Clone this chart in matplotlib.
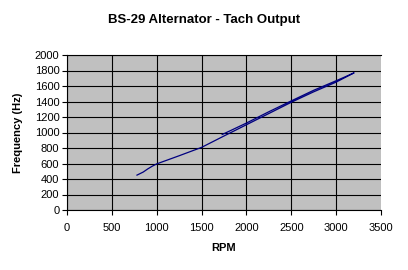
import matplotlib.pyplot as plt

plt.rcParams['font.family'] = ['Liberation Sans', 'DejaVu Sans']

# sweep up, then back down (the two lines between ~1750 and 3200 rpm)
rpm  = [780, 850, 900, 950, 1000, 1250, 1500, 1750, 2000, 2250, 2500, 2750, 3000, 3200,
        3100, 3000, 2750, 2500, 2250, 2000, 1750, 1730]
freq = [450, 490, 530, 565, 595, 700, 808, 955, 1100, 1245, 1390, 1525, 1650, 1770,
        1718, 1668, 1545, 1408, 1268, 1122, 985, 975]

xticks = [0, 500, 1000, 1500, 2000, 2500, 3000, 3500]
yticks = [0, 200, 400, 600, 800, 1000, 1200, 1400, 1600, 1800, 2000]

fig = plt.figure(figsize=(4.08, 2.70), dpi=100)
ax = fig.add_axes([67 / 408, 60 / 270, 314 / 408, 155 / 270])

ax.set_facecolor("#c0c0c0")
ax.plot(rpm, freq, color="#000080", linewidth=0.9)

ax.set_xlim(0, 3500)
ax.set_ylim(0, 2000)
ax.set_xticks(xticks)
ax.set_yticks(yticks)
ax.tick_params(labelsize=8, length=3.5, width=0.8, color="black")
ax.tick_params(axis="x", pad=6)
ax.tick_params(axis="y", pad=2)

ax.grid(True, color="black", linewidth=0.8)
ax.set_axisbelow(True)
ax.get_xgridlines()[-1].set_visible(False)

ax.spines["right"].set_visible(False)
for s in ("left", "bottom", "top"):
    ax.spines[s].set_linewidth(0.8)

fig.suptitle("BS-29 Alternator - Tach Output", fontsize=9.5, fontweight="bold", y=0.95)
ax.set_xlabel("RPM", fontsize=8, fontweight="bold")
ax.set_ylabel("Frequency (Hz)", fontsize=8, fontweight="bold")
ax.xaxis.set_label_coords(0.5, -0.21)
ax.yaxis.set_label_coords(-0.14, 0.5)

fig.savefig("out.png", dpi=100)
